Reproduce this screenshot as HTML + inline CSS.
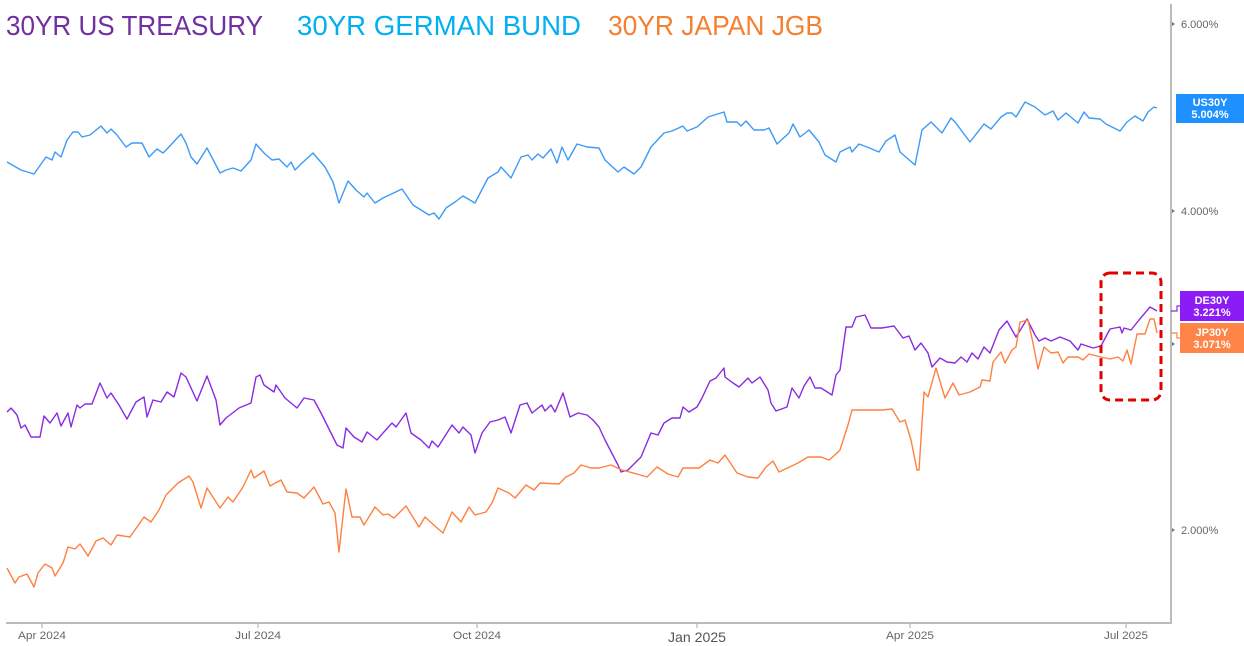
<!DOCTYPE html>
<html><head><meta charset="utf-8"><style>
html,body{margin:0;padding:0;background:#fff;}
svg{display:block;font-family:"Liberation Sans",sans-serif;}
</style></head><body>
<svg width="1244" height="646" viewBox="0 0 1244 646" xmlns="http://www.w3.org/2000/svg">
<rect width="1244" height="646" fill="#fff"/>
<text x="6" y="35" font-size="28" fill="#7030a0" textLength="257" lengthAdjust="spacingAndGlyphs">30YR US TREASURY</text>
<text x="297" y="35" font-size="28" fill="#00b0f0" textLength="284" lengthAdjust="spacingAndGlyphs">30YR GERMAN BUND</text>
<text x="608" y="35" font-size="28" fill="#f58030" textLength="215" lengthAdjust="spacingAndGlyphs">30YR JAPAN JGB</text>
<!-- axes -->
<line x1="1171" y1="4" x2="1171" y2="623" stroke="#bbb" stroke-width="2"/>
<line x1="6" y1="623" x2="1172" y2="623" stroke="#bbb" stroke-width="2"/>
<g fill="#666" font-size="11">
<text x="1181" y="28">6.000%</text>
<text x="1181" y="215">4.000%</text>
<text x="1181" y="348">3.000%</text>
<text x="1181" y="534">2.000%</text>
</g>
<g fill="#777"><path d="M1172 22l3 2-3 2z M1172 209l3 2-3 2z M1172 342l3 2-3 2z M1172 528l3 2-3 2z"/></g>
<g stroke="#aaa" stroke-width="1">
<line x1="42" y1="623" x2="42" y2="628"/><line x1="258" y1="623" x2="258" y2="628"/><line x1="477" y1="623" x2="477" y2="628"/><line x1="697" y1="623" x2="697" y2="628"/><line x1="910" y1="623" x2="910" y2="628"/><line x1="1126" y1="623" x2="1126" y2="628"/>
</g>
<g fill="#666" font-size="11" text-anchor="middle">
<text x="42" y="639" textLength="48" lengthAdjust="spacingAndGlyphs">Apr 2024</text>
<text x="258" y="639" textLength="46" lengthAdjust="spacingAndGlyphs">Jul 2024</text>
<text x="477" y="639" textLength="48" lengthAdjust="spacingAndGlyphs">Oct 2024</text>
<text x="697" y="642" font-size="14" fill="#555" textLength="58" lengthAdjust="spacingAndGlyphs">Jan 2025</text>
<text x="910" y="639" textLength="48" lengthAdjust="spacingAndGlyphs">Apr 2025</text>
<text x="1126" y="639" textLength="44" lengthAdjust="spacingAndGlyphs">Jul 2025</text>
</g>
<!-- series -->
<g fill="none" stroke-width="1.4" stroke-linejoin="round">
<polyline stroke="#3d9bf5" points="7,162 21,170 34,174 46,157 52,160 55,152 61,157 67,140 73,132 78,132 82,137 90,135 101,126 107,133 111,129 117,135 126,147 132,143 142,143 149,157 157,149 163,153 168,148 181,134 186,143 191,157 197,164 207,148 220,173 226,170 233,168 241,171 251,160 256,144 264,153 272,160 279,159 287,167 291,162 295,170 302,163 313,153 325,167 333,182 339,203 348,181 356,190 364,197 367,193 375,203 383,198 402,189 413,205 429,215 434,213 439,219 446,208 455,202 463,196 475,203 488,178 498,172 501,167 511,178 521,157 528,155 532,160 538,154 543,158 551,149 557,163 562,147 568,160 577,144 587,147 599,148 605,160 618,172 624,167 634,174 641,167 651,147 664,133 672,131 683,126 687,131 697,127 708,117 724,112 727,122 737,122 741,126 746,121 754,130 764,130 769,128 777,144 789,133 793,124 800,137 809,130 819,142 825,155 836,162 840,152 850,147 852,152 859,144 867,147 879,152 886,141 895,135 900,152 915,165 922,130 931,122 942,133 951,118 955,122 970,142 984,124 991,129 1001,117 1007,113 1012,113 1016,117 1025,102 1035,107 1045,115 1053,111 1058,120 1066,113 1078,123 1084,112 1089,118 1100,119 1106,124 1120,131 1127,122 1135,116 1143,121 1148,112 1154,107 1157,108"/>
<polyline stroke="#8a2be2" points="7,412 11,408 17,415 21,428 25,425 31,437 40,437 44,416 50,423 57,413 61,426 68,413 71,427 77,405 80,408 85,404 92,404 100,383 107,398 111,393 119,405 127,419 136,402 144,397 147,417 153,400 161,402 167,392 174,397 181,373 186,377 197,401 207,376 216,400 220,425 226,418 239,408 251,403 256,377 260,375 264,385 274,392 276,385 285,398 297,408 304,398 314,400 321,413 337,445 343,448 346,428 354,437 362,442 367,432 377,440 383,433 392,423 396,427 406,413 411,433 421,440 429,448 432,441 438,447 452,425 459,433 463,427 471,435 475,453 482,433 490,422 498,420 505,417 511,433 520,405 527,403 532,413 542,405 545,411 551,405 555,412 563,393 570,417 578,413 587,415 593,420 599,427 605,440 618,465 621,472 628,470 641,457 651,433 658,435 664,423 672,418 680,418 683,407 689,412 697,407 702,398 710,381 716,378 724,368 725,377 733,383 739,387 748,378 752,383 760,377 768,390 771,403 776,411 787,407 792,388 799,398 804,386 810,377 815,388 821,388 832,395 836,375 840,370 846,327 852,327 856,317 865,315 871,328 882,328 894,326 903,338 909,336 915,350 921,343 928,353 932,367 940,358 947,362 955,363 961,357 967,362 972,353 978,359 984,347 990,353 999,330 1007,321 1016,337 1027,319 1035,335 1039,341 1045,338 1051,341 1060,337 1070,341 1078,350 1081,344 1093,348 1101,346 1110,329 1120,327 1122,333 1124,328 1131,330 1139,320 1150,307 1157,311"/>
<polyline stroke="#ff8040" points="7,568 15,583 19,577 27,574 34,587 38,573 45,564 52,568 55,576 63,563 68,547 75,549 80,544 88,556 96,541 103,538 111,545 117,535 130,537 144,517 151,522 159,510 166,495 178,483 189,476 193,482 201,508 207,488 220,508 228,497 233,502 243,487 251,470 254,478 264,471 270,486 281,480 287,492 297,493 304,498 314,487 323,504 329,502 335,513 339,552 346,489 352,517 360,517 364,525 375,507 383,515 388,514 394,518 406,506 419,527 425,517 436,527 443,533 452,512 461,522 469,507 475,515 486,512 492,503 498,488 509,493 515,498 526,485 534,490 540,483 559,484 566,477 574,473 581,465 591,468 599,468 611,465 622,470 637,474 647,477 657,467 668,474 678,477 683,468 699,468 710,460 718,463 725,455 737,473 748,477 758,478 766,467 773,461 779,472 798,463 808,457 821,457 829,460 836,454 840,450 848,425 852,410 863,410 882,410 892,409 900,422 905,420 911,440 917,470 919,470 924,392 928,397 936,368 945,398 953,383 959,395 970,392 980,387 982,380 990,381 993,362 1001,352 1005,363 1012,350 1016,347 1020,322 1028,320 1033,343 1038,369 1044,347 1051,353 1058,352 1063,363 1068,357 1078,357 1083,360 1089,354 1101,357 1110,359 1118,357 1123,361 1127,350 1131,364 1137,334 1145,334 1150,319 1154,319 1157,333"/>
</g>
<!-- red box -->
<rect x="1101" y="273" width="60" height="127" rx="9" fill="none" stroke="#e00000" stroke-width="3" stroke-dasharray="8,5"/>
<!-- connectors -->
<g fill="none" stroke-width="1.2">
<polyline stroke="#8a2be2" points="1171,311 1177,311 1177,306 1180,306"/>
<polyline stroke="#ff8040" points="1171,333 1177,333 1177,338 1180,338"/>
</g>
<!-- labels -->
<rect x="1176" y="94" width="68" height="29" fill="#1e90ff"/>
<text x="1210" y="106" font-size="11" font-weight="bold" fill="#fff" text-anchor="middle">US30Y</text>
<text x="1210" y="118" font-size="11" font-weight="bold" fill="#fff" text-anchor="middle">5.004%</text>
<rect x="1180" y="291" width="64" height="30" fill="#8b1cf5"/>
<text x="1212" y="304" font-size="11" font-weight="bold" fill="#fff" text-anchor="middle">DE30Y</text>
<text x="1212" y="316" font-size="11" font-weight="bold" fill="#fff" text-anchor="middle">3.221%</text>
<rect x="1180" y="323" width="64" height="30" fill="#ff8447"/>
<text x="1212" y="336" font-size="11" font-weight="bold" fill="#fff" text-anchor="middle">JP30Y</text>
<text x="1212" y="348" font-size="11" font-weight="bold" fill="#fff" text-anchor="middle">3.071%</text>
</svg>
</body></html>
